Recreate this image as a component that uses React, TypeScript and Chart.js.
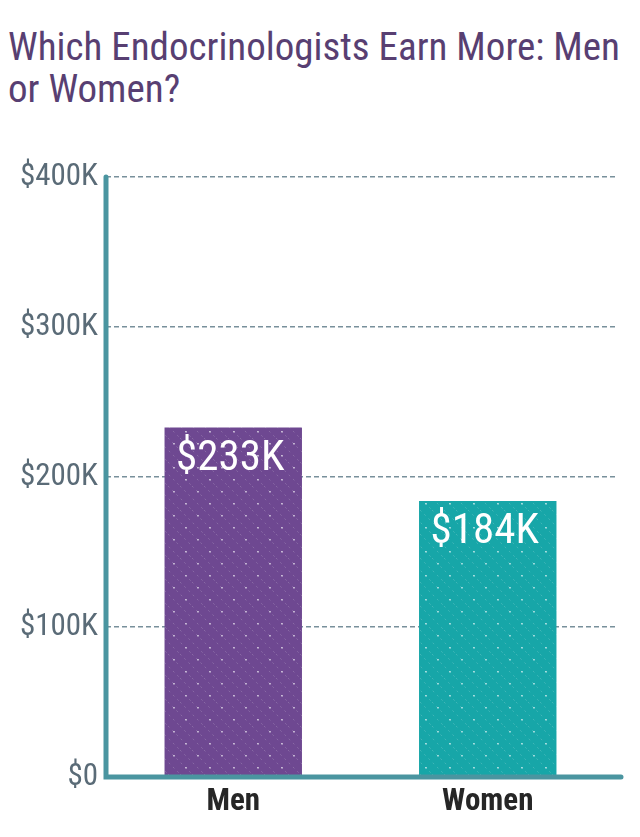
import React, { useEffect, useRef } from "react";
import { Chart, registerables } from "chart.js";

Chart.register(...registerables);

const TITLE = "Which Endocrinologists Earn More: Men or Women?";
const categories = ["Men", "Women"];
const salaries = [233, 184]; // in $K
const barColors = ["#6e4891", "#17a6a8"];
const valueLabels = ["$233K", "$184K"];
const yTicks = [0, 100, 200, 300, 400];

const FONT = "'Roboto Condensed', 'Liberation Sans Narrow', 'Arial Narrow', Roboto, sans-serif";

function makePattern(color: string): CanvasPattern | string {
  const c = document.createElement("canvas");
  c.width = 24;
  c.height = 24;
  const ctx = c.getContext("2d");
  if (!ctx) return color;
  ctx.fillStyle = color;
  ctx.fillRect(0, 0, 24, 24);
  ctx.strokeStyle = "rgba(255,255,255,0.18)";
  ctx.lineWidth = 1;
  ctx.setLineDash([2, 4]);
  for (let o = -24; o <= 24; o += 12) {
    ctx.beginPath();
    ctx.moveTo(o, 0);
    ctx.lineTo(o + 24, 24);
    ctx.stroke();
  }
  ctx.setLineDash([]);
  ctx.fillStyle = "rgba(255,255,255,0.55)";
  ctx.fillRect(5, 5, 2, 1.5);
  ctx.fillRect(17, 17, 2, 1.5);
  const p = ctx.createPattern(c, "repeat");
  return p || color;
}

const axisPlugin = {
  id: "customAxes",
  afterDatasetsDraw(chart: any) {
    const { ctx, chartArea } = chart;
    ctx.save();
    ctx.strokeStyle = "#4a95a0";
    ctx.lineWidth = 5;
    ctx.lineCap = "round";
    ctx.beginPath();
    ctx.moveTo(chartArea.left, chartArea.top);
    ctx.lineTo(chartArea.left, chartArea.bottom);
    ctx.lineTo(chartArea.right + 6, chartArea.bottom);
    ctx.stroke();

    const meta = chart.getDatasetMeta(0);
    ctx.fillStyle = "#ffffff";
    ctx.font = `43px ${FONT}`;
    ctx.textAlign = "center";
    ctx.textBaseline = "top";
    meta.data.forEach((bar: any, i: number) => {
      ctx.fillText(valueLabels[i], bar.x - 3, bar.y + 10);
    });
    ctx.restore();
  },
};

export default function App() {
  const ref = useRef<HTMLCanvasElement>(null);
  useEffect(() => {
    if (!ref.current) return;
    const chart = new Chart(ref.current, {
      type: "bar",
      data: {
        labels: categories,
        datasets: [
          {
            data: salaries,
            backgroundColor: barColors.map((c) => makePattern(c)) as any,
            borderWidth: 0,
            barPercentage: 0.54,
            categoryPercentage: 1,
          },
        ],
      },
      options: {
        animation: false,
        responsive: true,
        maintainAspectRatio: false,
        layout: { padding: { top: 27, right: 25, left: 0, bottom: 0 } },
        plugins: {
          legend: { display: false },
          tooltip: { enabled: false },
        },
        scales: {
          x: {
            grid: { display: false, drawTicks: false },
            border: { display: false },
            ticks: {
              color: "#262626",
              font: { family: FONT, size: 31, weight: "bold" },
              padding: 7,
            },
            afterFit(scale: any) {
              scale.height = 60;
            },
          },
          y: {
            min: 0,
            max: 400,
            afterBuildTicks(scale: any) {
              scale.ticks = yTicks.map((v) => ({ value: v }));
            },
            grid: {
              color: (c: any) => (c.tick && c.tick.value === 0 ? "rgba(0,0,0,0)" : "#78909b"),
              lineWidth: 1.5,
              drawTicks: false,
            },
            border: { display: false, dash: [5, 3] },
            ticks: {
              color: "#5a6b77",
              font: { family: FONT, size: 31 },
              padding: 8,
              callback: (v: any) => (v === 0 ? "$0" : `$${v}K`),
            },
            afterFit(scale: any) {
              scale.width = 106;
            },
          },
        },
      },
      plugins: [axisPlugin],
    });
    return () => chart.destroy();
  }, []);

  return (
    <div style={{ position: "relative", width: 640, height: 837, margin: -8, overflow: "hidden", background: "#fff" }}>
      <div
        style={{
          position: "absolute",
          left: 8,
          top: 26,
          width: 630,
          fontFamily: FONT,
          fontSize: 39,
          lineHeight: "42px",
          color: "#583f72",
        }}
      >
        {TITLE}
      </div>
      <div style={{ position: "absolute", left: 0, top: 150, width: 640, height: 687 }}>
        <canvas ref={ref} />
      </div>
    </div>
  );
}
